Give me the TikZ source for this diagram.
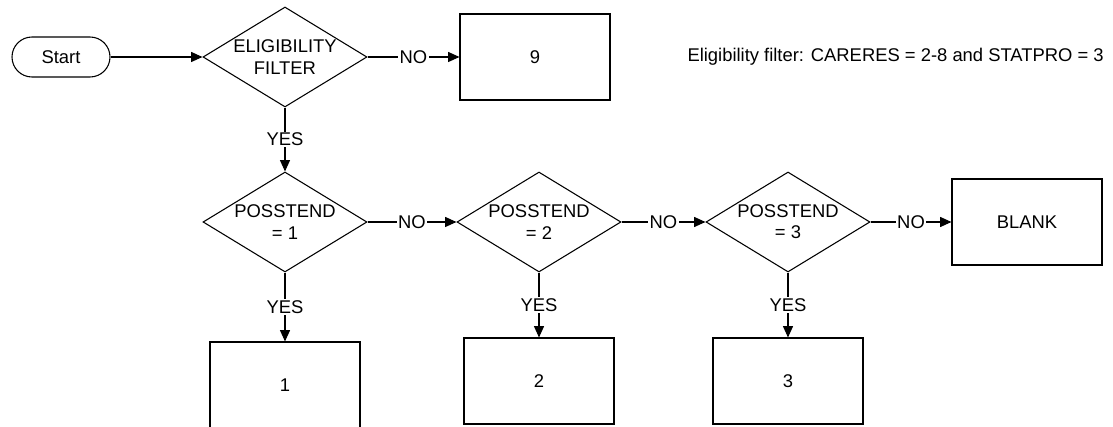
\documentclass[tikz,border=0pt]{standalone}
\usepackage{fontspec}
\setmainfont{Liberation Sans}
\usetikzlibrary{shapes.geometric,arrows.meta,positioning}

\begin{document}
\begin{tikzpicture}[x=0.75pt, y=-0.75pt, line width=0.8pt,
    every node/.style={font=\fontsize{13.8}{16}\selectfont},
    decision/.style={draw, diamond, inner sep=0pt, minimum width=123pt, minimum height=75pt},
    result/.style={draw, rectangle, minimum width=112.5pt, minimum height=64.5pt},
    terminal/.style={draw, rectangle, rounded corners=15pt, minimum width=73.5pt, minimum height=30pt},
    flow/.style={-{Triangle[length=8.5pt,width=7.5pt]}},
    answer/.style={fill=white, inner sep=1pt}]
    \useasboundingbox (0,0) rectangle (1113,427);

    % Start and eligibility
    \node[terminal] (start) at (61,57) {Start};
    \node[decision, label={[align=center]center:ELIGIBILITY\\FILTER}] (elig) at (285,57) {};
    \node[result] (out9) at (535,57) {9};
    \node[anchor=west, inner sep=0pt] (note) at (687,57) {Eligibility filter: CARERES = 2-8 and STATPRO = 3};

    % POSSTEND checks
    \node[decision, label={[align=center]center:POSSTEND\\= 1}] (pos1) at (285,222) {};
    \node[decision, label={[align=center]center:POSSTEND\\= 2}] (pos2) at (539,222) {};
    \node[decision, label={[align=center]center:POSSTEND\\= 3}] (pos3) at (788,222) {};
    \node[result] (blank) at (1027,222) {BLANK};

    % Outcomes
    \node[result] (out1) at (285,385) {1};
    \node[result] (out2) at (539,381) {2};
    \node[result] (out3) at (788,381) {3};

    % Arrows
    \draw[flow] (start) -- (elig);
    \draw[flow] (elig) -- node[answer] {NO} (out9);
    \draw[flow] (elig) -- node[answer] {YES} (pos1);

    \draw[flow] (pos1) -- node[answer] {NO} (pos2);
    \draw[flow] (pos2) -- node[answer] {NO} (pos3);
    \draw[flow] (pos3) -- node[answer] {NO} (blank);

    \draw[flow] (pos1) -- node[answer] {YES} (out1);
    \draw[flow] (pos2) -- node[answer] {YES} (out2);
    \draw[flow] (pos3) -- node[answer] {YES} (out3);
\end{tikzpicture}
\end{document}
